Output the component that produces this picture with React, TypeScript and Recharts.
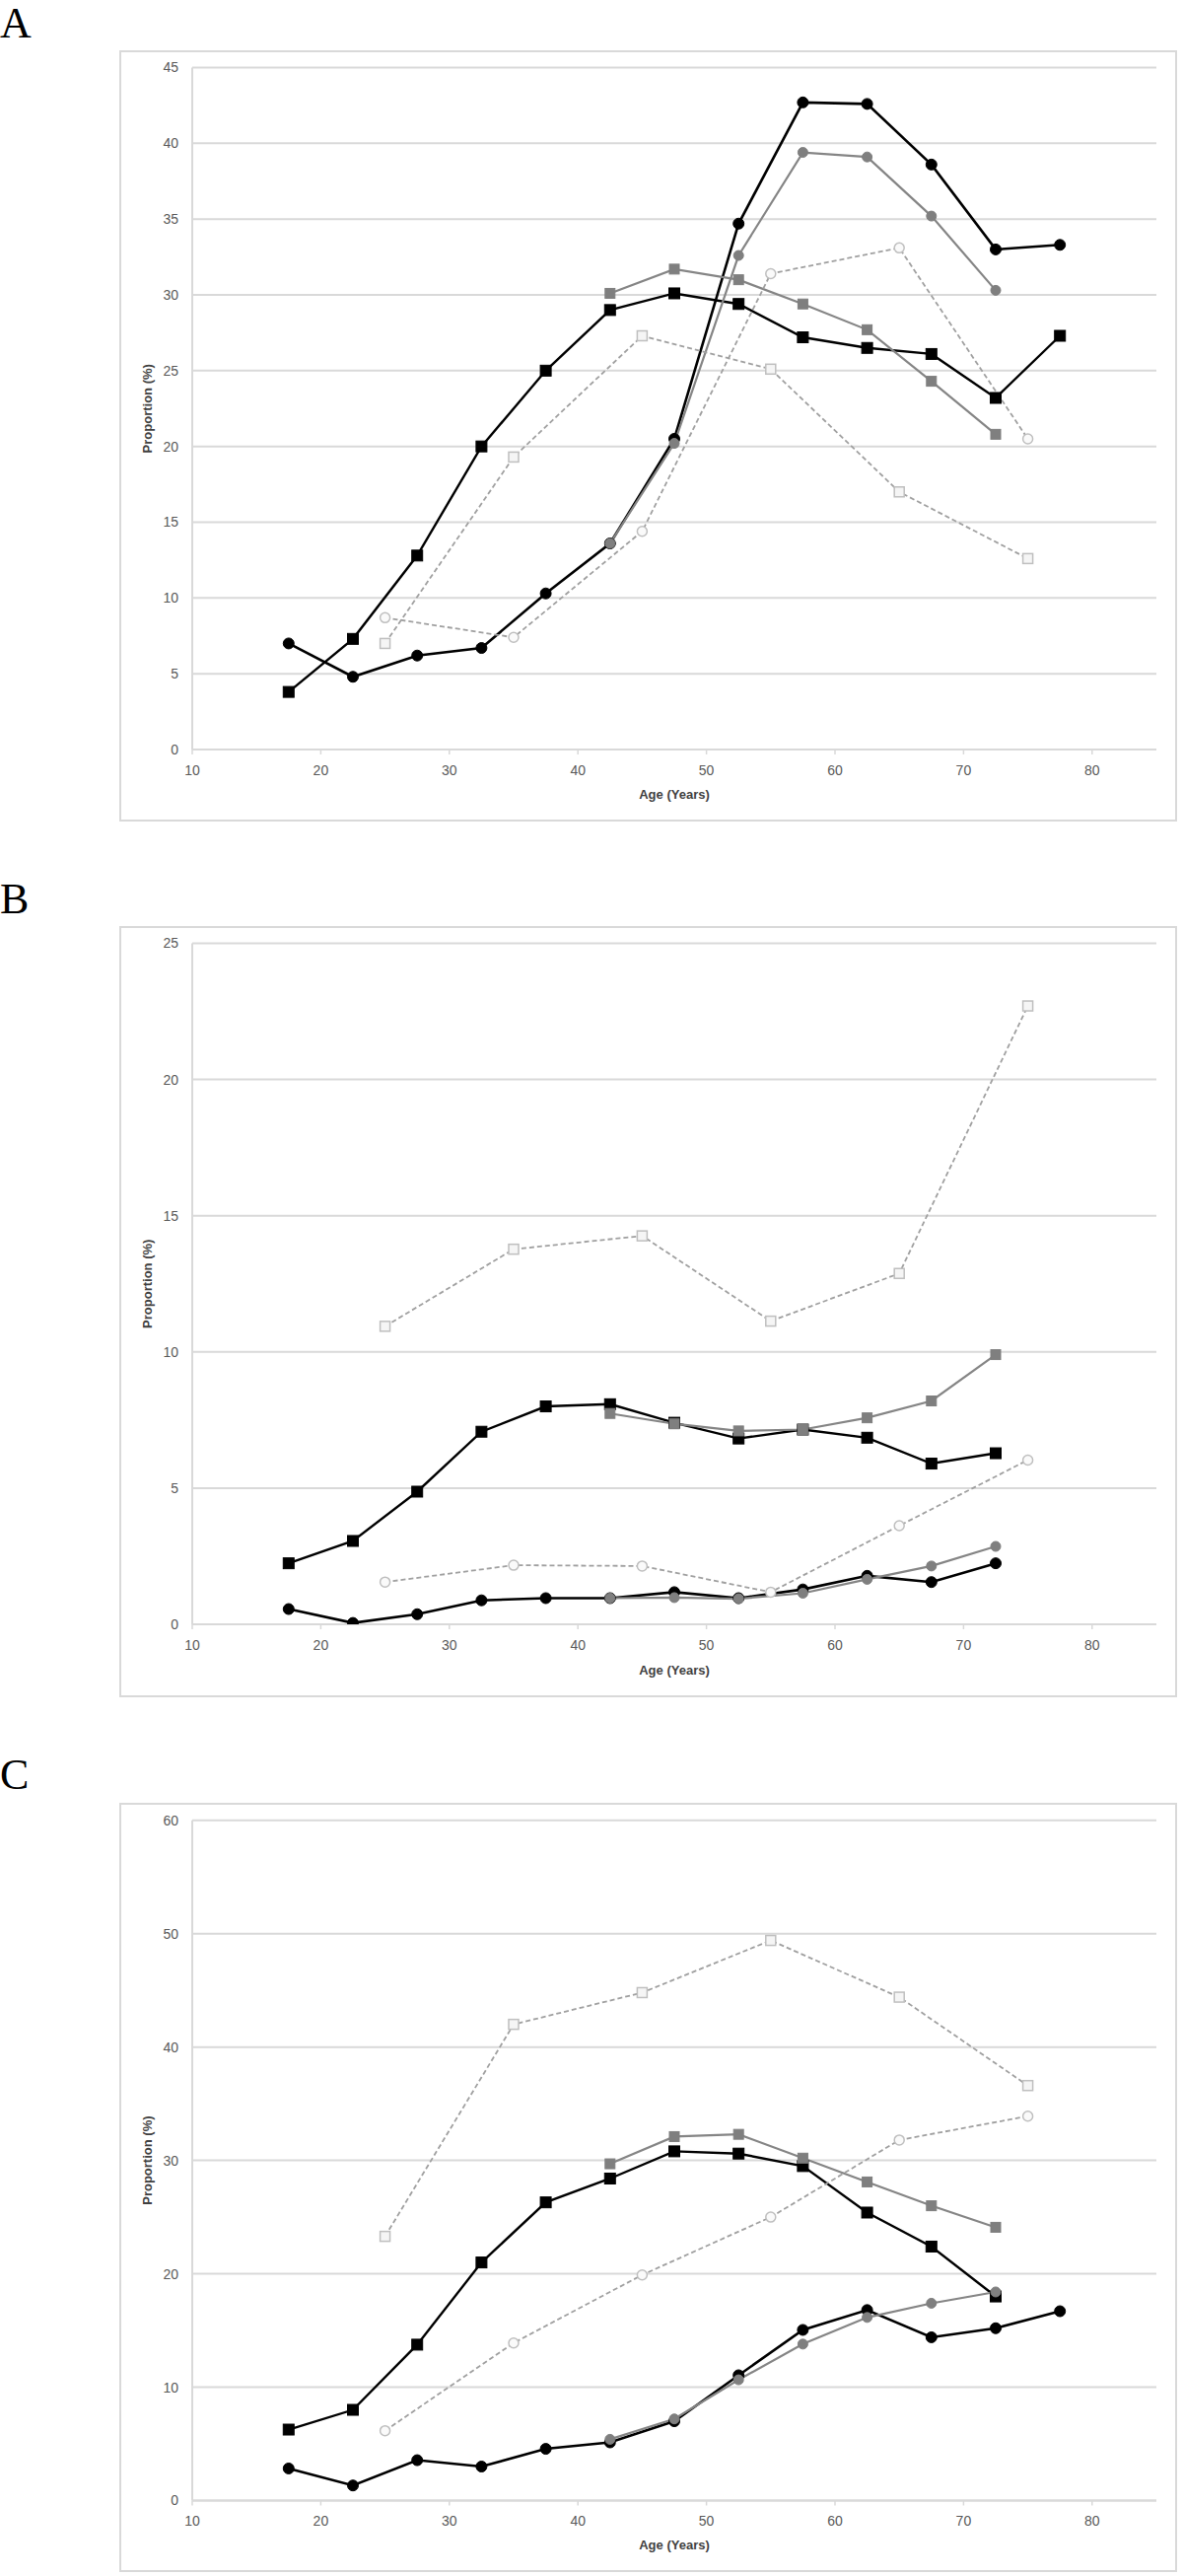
import React from 'react';
import { LineChart, Line, XAxis, YAxis, CartesianGrid } from 'recharts';

// ---------- categories (age in years) ----------
const AGE_MID = [17.5, 22.5, 27.5, 32.5, 37.5, 42.5, 47.5, 52.5, 57.5, 62.5, 67.5, 72.5, 77.5];
const AGE_MID12 = [17.5, 22.5, 27.5, 32.5, 37.5, 42.5, 47.5, 52.5, 57.5, 62.5, 67.5, 72.5];
const AGE_LATE = [42.5, 47.5, 52.5, 57.5, 62.5, 67.5, 72.5];
const AGE_DEC = [25, 35, 45, 55, 65, 75];
const X_TICKS = [10, 20, 30, 40, 50, 60, 70, 80];

// ---------- Panel A ----------
const A_Y_TICKS = [0, 5, 10, 15, 20, 25, 30, 35, 40, 45];
const A_BLACK_CIRCLE = [7.0, 4.8, 6.2, 6.7, 10.3, 13.6, 20.5, 34.7, 42.7, 42.6, 38.6, 33.0, 33.3];
const A_BLACK_SQUARE = [3.8, 7.3, 12.8, 20.0, 25.0, 29.0, 30.1, 29.4, 27.2, 26.5, 26.1, 23.2, 27.3];
const A_GRAY_CIRCLE = [13.6, 20.2, 32.6, 39.4, 39.1, 35.2, 30.3];
const A_GRAY_SQUARE = [30.1, 31.7, 31.0, 29.4, 27.7, 24.3, 20.8];
const A_OPEN_CIRCLE = [8.7, 7.4, 14.4, 31.4, 33.1, 20.5];
const A_OPEN_SQUARE = [7.0, 19.3, 27.3, 25.1, 17.0, 12.6];

// ---------- Panel B ----------
const B_Y_TICKS = [0, 5, 10, 15, 20, 25];
const B_BLACK_CIRCLE = [0.56, 0.05, 0.37, 0.88, 0.96, 0.96, 1.18, 0.96, 1.28, 1.78, 1.55, 2.24];
const B_BLACK_SQUARE = [2.24, 3.06, 4.87, 7.07, 8.0, 8.08, 7.4, 6.82, 7.15, 6.85, 5.9, 6.28];
const B_GRAY_CIRCLE = [0.96, 0.98, 0.94, 1.14, 1.65, 2.14, 2.86];
const B_GRAY_SQUARE = [7.74, 7.36, 7.1, 7.15, 7.58, 8.2, 9.9];
const B_OPEN_CIRCLE = [1.55, 2.17, 2.14, 1.18, 3.62, 6.03];
const B_OPEN_SQUARE = [10.94, 13.77, 14.26, 11.13, 12.88, 22.7];

// ---------- Panel C ----------
const C_Y_TICKS = [0, 10, 20, 30, 40, 50, 60];
const C_BLACK_CIRCLE = [2.83, 1.33, 3.56, 3.0, 4.56, 5.13, 7.0, 11.05, 15.05, 16.8, 14.4, 15.2, 16.7];
const C_BLACK_SQUARE = [6.26, 8.0, 13.75, 21.0, 26.3, 28.4, 30.8, 30.6, 29.5, 25.4, 22.4, 18.0];
const C_GRAY_CIRCLE = [5.4, 7.2, 10.65, 13.8, 16.15, 17.4, 18.4];
const C_GRAY_SQUARE = [29.7, 32.1, 32.3, 30.2, 28.1, 26.0, 24.1];
const C_OPEN_CIRCLE = [6.16, 13.9, 19.9, 25.0, 31.8, 33.9];
const C_OPEN_SQUARE = [23.3, 42.0, 44.8, 49.4, 44.4, 36.6];

type Series = { key: string; ages: number[]; values: number[] };

function buildRows(series: Series[]) {
  const xs = Array.from(new Set(series.flatMap((s) => s.ages))).sort((a, b) => a - b);
  return xs.map((x) => {
    const row: any = { x };
    series.forEach((s) => {
      const i = s.ages.indexOf(x);
      row[s.key] = i >= 0 ? s.values[i] : null;
    });
    return row;
  });
}

const STYLE: Record<string, any> = {
  bc: { stroke: '#000000', width: 2.6, dash: undefined, shape: 'circle', size: 11, fill: '#000000', mstroke: '#000000', msw: 1 },
  bs: { stroke: '#000000', width: 2.4, dash: undefined, shape: 'square', size: 11, fill: '#000000', mstroke: '#000000', msw: 1 },
  gc: { stroke: '#858585', width: 2.2, dash: undefined, shape: 'circle', size: 10, fill: '#7f7f7f', mstroke: '#7f7f7f', msw: 1 },
  gs: { stroke: '#858585', width: 2.2, dash: undefined, shape: 'square', size: 10, fill: '#7f7f7f', mstroke: '#7f7f7f', msw: 1 },
  oc: { stroke: '#a0a0a0', width: 1.8, dash: '5 3', shape: 'circle', size: 10, fill: '#fafafa', mstroke: '#bfbfbf', msw: 1.5 },
  os: { stroke: '#a0a0a0', width: 1.8, dash: '5 3', shape: 'square', size: 10, fill: '#f5f5f5', mstroke: '#bfbfbf', msw: 1.5 },
};

const makeDot = (dataKey: string, st: any) => (props: any) => {
  const { cx, cy, index, payload } = props;
  const key = `${dataKey}-${index}`;
  if (!Number.isFinite(cx) || !Number.isFinite(cy) || !payload || payload[dataKey] == null) {
    return <g key={key} />;
  }
  if (st.shape === 'square') {
    return (
      <rect key={key} x={cx - st.size / 2} y={cy - st.size / 2} width={st.size} height={st.size}
        fill={st.fill} stroke={st.mstroke} strokeWidth={st.msw} />
    );
  }
  return <circle key={key} cx={cx} cy={cy} r={st.size / 2} fill={st.fill} stroke={st.mstroke} strokeWidth={st.msw} />;
};

const TICK_FONT = { fill: '#595959', fontSize: 14, fontFamily: '"Liberation Sans", Arial, sans-serif' };
const LABEL_FONT = { fill: '#404040', fontSize: 13, fontWeight: 700, fontFamily: '"Liberation Sans", Arial, sans-serif' };

type PanelProps = {
  letter: string;
  letterTop: number;
  boxTop: number;
  boxBottom: number;
  plotTop: number;
  plotBottom: number;
  yMax: number;
  yTicks: number[];
  series: Series[];
};

function Panel(p: PanelProps) {
  const boxH = p.boxBottom - p.boxTop;
  const rows = buildRows(p.series);
  return (
    <>
      <div style={{ position: 'absolute', left: 0, top: p.letterTop, fontFamily: '"Liberation Serif", "Times New Roman", serif', fontSize: 44, lineHeight: '44px', color: '#000' }}>
        {p.letter}
      </div>
      <div style={{ position: 'absolute', left: 121, top: p.boxTop, width: 1073, height: boxH, border: '2px solid #d9d9d9', boxSizing: 'border-box', background: '#fff' }} />
      <div style={{ position: 'absolute', left: 0, top: p.boxTop, width: 1200, height: boxH }}>
        <LineChart width={1200} height={boxH} data={rows}
          margin={{ top: p.plotTop - p.boxTop, right: 27, bottom: 0, left: 135 }}>
          <CartesianGrid vertical={false} stroke="#d9d9d9" strokeWidth={2} />
          <XAxis type="number" dataKey="x" domain={[10, 85]} ticks={X_TICKS} allowDataOverflow
            height={p.boxBottom - p.plotBottom}
            axisLine={{ stroke: '#d9d9d9', strokeWidth: 2 }} tickLine={{ stroke: '#d9d9d9', strokeWidth: 1.5 }}
            tickSize={5} tickMargin={11} tick={TICK_FONT}
            label={{ value: 'Age (Years)', position: 'insideBottom', offset: 23, ...LABEL_FONT }} />
          <YAxis type="number" domain={[0, p.yMax]} ticks={p.yTicks} width={60} allowDataOverflow
            axisLine={{ stroke: '#d9d9d9', strokeWidth: 2 }} tickLine={false} tickSize={0} tickMargin={14}
            tick={TICK_FONT}
            label={{ value: 'Proportion (%)', angle: -90, position: 'insideLeft', offset: 14, style: { textAnchor: 'middle' }, ...LABEL_FONT }} />
          {p.series.map((s) => {
            const st = STYLE[s.key];
            return (
              <Line key={s.key} type="linear" dataKey={s.key} stroke={st.stroke} strokeWidth={st.width}
                strokeDasharray={st.dash} connectNulls isAnimationActive={false}
                dot={makeDot(s.key, st)} activeDot={false} />
            );
          })}
        </LineChart>
      </div>
    </>
  );
}

const SERIES_A: Series[] = [
  { key: 'bc', ages: AGE_MID, values: A_BLACK_CIRCLE },
  { key: 'bs', ages: AGE_MID, values: A_BLACK_SQUARE },
  { key: 'gc', ages: AGE_LATE, values: A_GRAY_CIRCLE },
  { key: 'gs', ages: AGE_LATE, values: A_GRAY_SQUARE },
  { key: 'oc', ages: AGE_DEC, values: A_OPEN_CIRCLE },
  { key: 'os', ages: AGE_DEC, values: A_OPEN_SQUARE },
];
const SERIES_B: Series[] = [
  { key: 'bc', ages: AGE_MID12, values: B_BLACK_CIRCLE },
  { key: 'bs', ages: AGE_MID12, values: B_BLACK_SQUARE },
  { key: 'gc', ages: AGE_LATE, values: B_GRAY_CIRCLE },
  { key: 'gs', ages: AGE_LATE, values: B_GRAY_SQUARE },
  { key: 'oc', ages: AGE_DEC, values: B_OPEN_CIRCLE },
  { key: 'os', ages: AGE_DEC, values: B_OPEN_SQUARE },
];
const SERIES_C: Series[] = [
  { key: 'bc', ages: AGE_MID, values: C_BLACK_CIRCLE },
  { key: 'bs', ages: AGE_MID12, values: C_BLACK_SQUARE },
  { key: 'gc', ages: AGE_LATE, values: C_GRAY_CIRCLE },
  { key: 'gs', ages: AGE_LATE, values: C_GRAY_SQUARE },
  { key: 'oc', ages: AGE_DEC, values: C_OPEN_CIRCLE },
  { key: 'os', ages: AGE_DEC, values: C_OPEN_SQUARE },
];

export default function App() {
  return (
    <div style={{ position: 'absolute', left: 0, top: 0, width: 1200, height: 2612, background: '#fff', overflow: 'hidden' }}>
      <Panel letter="A" letterTop={1.5} boxTop={51} boxBottom={833} plotTop={68.5} plotBottom={760}
        yMax={45} yTicks={A_Y_TICKS} series={SERIES_A} />
      <Panel letter="B" letterTop={890} boxTop={939} boxBottom={1721} plotTop={956.5} plotBottom={1647}
        yMax={25} yTicks={B_Y_TICKS} series={SERIES_B} />
      <Panel letter="C" letterTop={1777.5} boxTop={1828} boxBottom={2608} plotTop={1845.7} plotBottom={2535.5}
        yMax={60} yTicks={C_Y_TICKS} series={SERIES_C} />
    </div>
  );
}
